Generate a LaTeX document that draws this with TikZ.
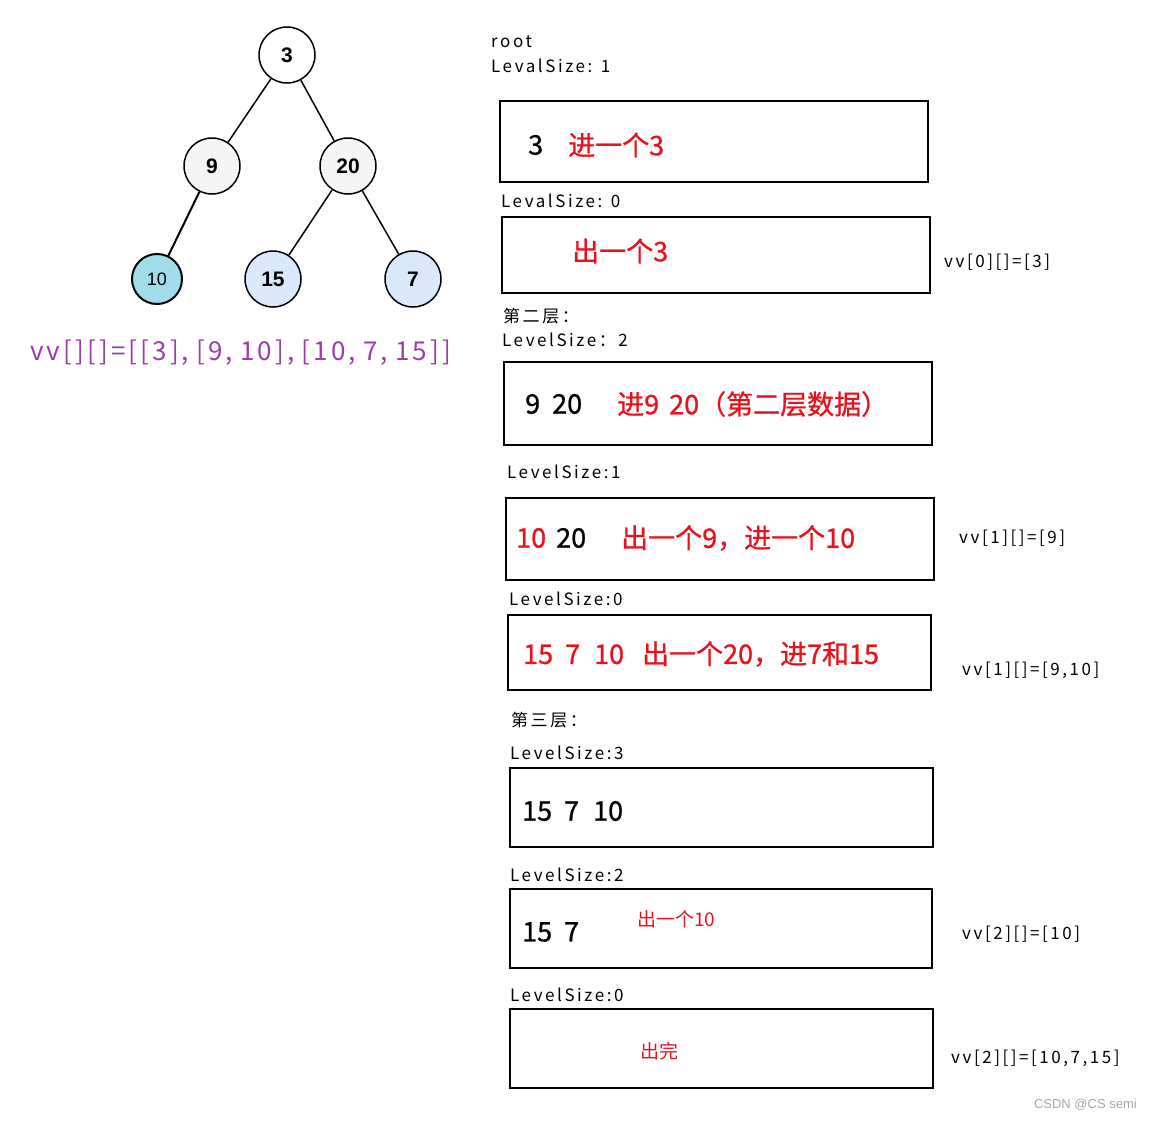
\documentclass[tikz,border=0pt]{standalone}
\usepackage{fontspec}
\setmainfont{Noto Sans CJK SC}
\newfontfamily\lblfont[LetterSpace=15]{Noto Sans CJK SC}
\newfontfamily\vvfont[LetterSpace=12]{Noto Sans CJK SC}
\newfontfamily\boxfont[FakeBold=0.9]{Noto Sans CJK SC}
\newfontfamily\treefont{Liberation Sans}
\usetikzlibrary{positioning}
\definecolor{stepred}{RGB}{232,18,28}
\definecolor{vvpurple}{RGB}{155,62,168}
\definecolor{leafcyan}{RGB}{160,221,234}
\definecolor{leafblue}{RGB}{218,232,252}
\definecolor{innergray}{RGB}{245,245,245}

\begin{document}
\begin{tikzpicture}[x=1pt,y=-1pt,
    treenode/.style={draw, circle, line width=1.5pt, minimum size=56pt, inner sep=0pt,
      font=\treefont\bfseries\fontsize{21}{21}\selectfont},
    stepbox/.style={draw, line width=2.5pt, inner sep=0pt},
    lbl/.style={anchor=west, inner sep=0pt, font=\lblfont\fontsize{17}{17}\selectfont},
    boxnum/.style={anchor=west, inner sep=0pt, font=\boxfont\fontsize{27}{27}\selectfont},
    boxred/.style={boxnum, text=stepred},
    smallred/.style={anchor=west, inner sep=0pt, text=stepred, font=\fontsize{19}{19}\selectfont}]
  \useasboundingbox (0,0) rectangle (1152,1120);

  % Tree
  \node[treenode, fill=white] (n3) at (287,55) {3};
  \node[treenode, fill=innergray] (n9) at (212,166) {9};
  \node[treenode, fill=innergray] (n20) at (348,166) {20};
  \node[treenode, fill=leafcyan, minimum size=50pt, line width=2pt,
    font=\treefont\fontsize{18}{18}\selectfont] (n10) at (157,279) {10};
  \node[treenode, fill=leafblue] (n15) at (273,279) {15};
  \node[treenode, fill=leafblue] (n7) at (413,279) {7};

  \draw[line width=1.5pt] (n3) -- (n9);
  \draw[line width=1.5pt] (n3) -- (n20);
  \draw[line width=2pt] (n9) -- (n10);
  \draw[line width=1.5pt] (n20) -- (n15);
  \draw[line width=1.5pt] (n20) -- (n7);

  \node[anchor=west, inner sep=0pt, text=vvpurple, font=\vvfont\fontsize{26}{26}\selectfont]
    (result) at (30,353) {vv[][]=[[3],\;[9,\;10],\;[10,\;7,\;15]]};

  % Level labels
  \node[lbl] (root) at (491,42) {root};
  \node[lbl] (lv1) at (491,66) {LevalSize: 1};
  \node[lbl] (lv2) at (501,201) {LevalSize: 0};
  \node[lbl] (layer2) at (503,316) {第二层：};
  \node[lbl] (lv3) at (502,340) {LevelSize：2};
  \node[lbl] (lv4) at (507,472) {LevelSize:1};
  \node[lbl] (lv5) at (509,599) {LevelSize:0};
  \node[lbl] (layer3) at (511,720) {第三层：};
  \node[lbl] (lv6) at (510,753) {LevelSize:3};
  \node[lbl] (lv7) at (510,875) {LevelSize:2};
  \node[lbl] (lv8) at (510,995) {LevelSize:0};

  % Queue boxes
  \node[stepbox, minimum width=428pt, minimum height=81pt] (box1) at (714,141.5) {};
  \node[stepbox, minimum width=428pt, minimum height=76pt] (box2) at (716,255) {};
  \node[stepbox, minimum width=428pt, minimum height=83pt] (box3) at (718,403.5) {};
  \node[stepbox, minimum width=428pt, minimum height=82pt] (box4) at (720,539) {};
  \node[stepbox, minimum width=423pt, minimum height=75pt] (box5) at (719.5,652.5) {};
  \node[stepbox, minimum width=423pt, minimum height=79pt] (box6) at (721.5,807.5) {};
  \node[stepbox, minimum width=422pt, minimum height=79pt] (box7) at (721,928.5) {};
  \node[stepbox, minimum width=423pt, minimum height=79pt] (box8) at (721.5,1048.5) {};

  % Box contents
  \node[boxnum] (q1) at (528,145) {3};
  \node[boxred] (op1) at (568,145) {进一个3};
  \node[boxred] (op2) at (572,251) {出一个3};
  \node[boxnum] (q3) at (525,404) {9\hspace{12pt}20};
  \node[boxred] (op3) at (617,404) {进9\hspace{10pt}20（第二层数据）};
  \node[boxred] (q4a) at (516,538) {10};
  \node[boxnum] (q4b) at (556,538) {20};
  \node[boxred] (op4) at (621,538) {出一个9，进一个10};
  \node[boxred] (op5) at (523,654) {15\hspace{12pt}7\hspace{14pt}10\hspace{18pt}出一个20，进7和15};
  \node[boxnum] (q6) at (522,811) {15\hspace{12pt}7\hspace{14pt}10};
  \node[boxnum] (q7) at (522,932) {15\hspace{12pt}7};
  \node[smallred] (op7) at (637,919) {出一个10};
  \node[smallred] (op8) at (640,1051) {出完};

  % Result rows
  \node[lbl] (vv0) at (944,262) {vv[0][]=[3]};
  \node[lbl] (vv1a) at (959,538) {vv[1][]=[9]};
  \node[lbl] (vv1b) at (962,670) {vv[1][]=[9,10]};
  \node[lbl] (vv2a) at (962,934) {vv[2][]=[10]};
  \node[lbl] (vv2b) at (951,1058) {vv[2][]=[10,7,15]};

  \node[anchor=east, inner sep=0pt, text=black!35, font=\treefont\fontsize{13}{13}\selectfont]
    (mark) at (1137,1105) {CSDN @CS semi};
\end{tikzpicture}
\end{document}
